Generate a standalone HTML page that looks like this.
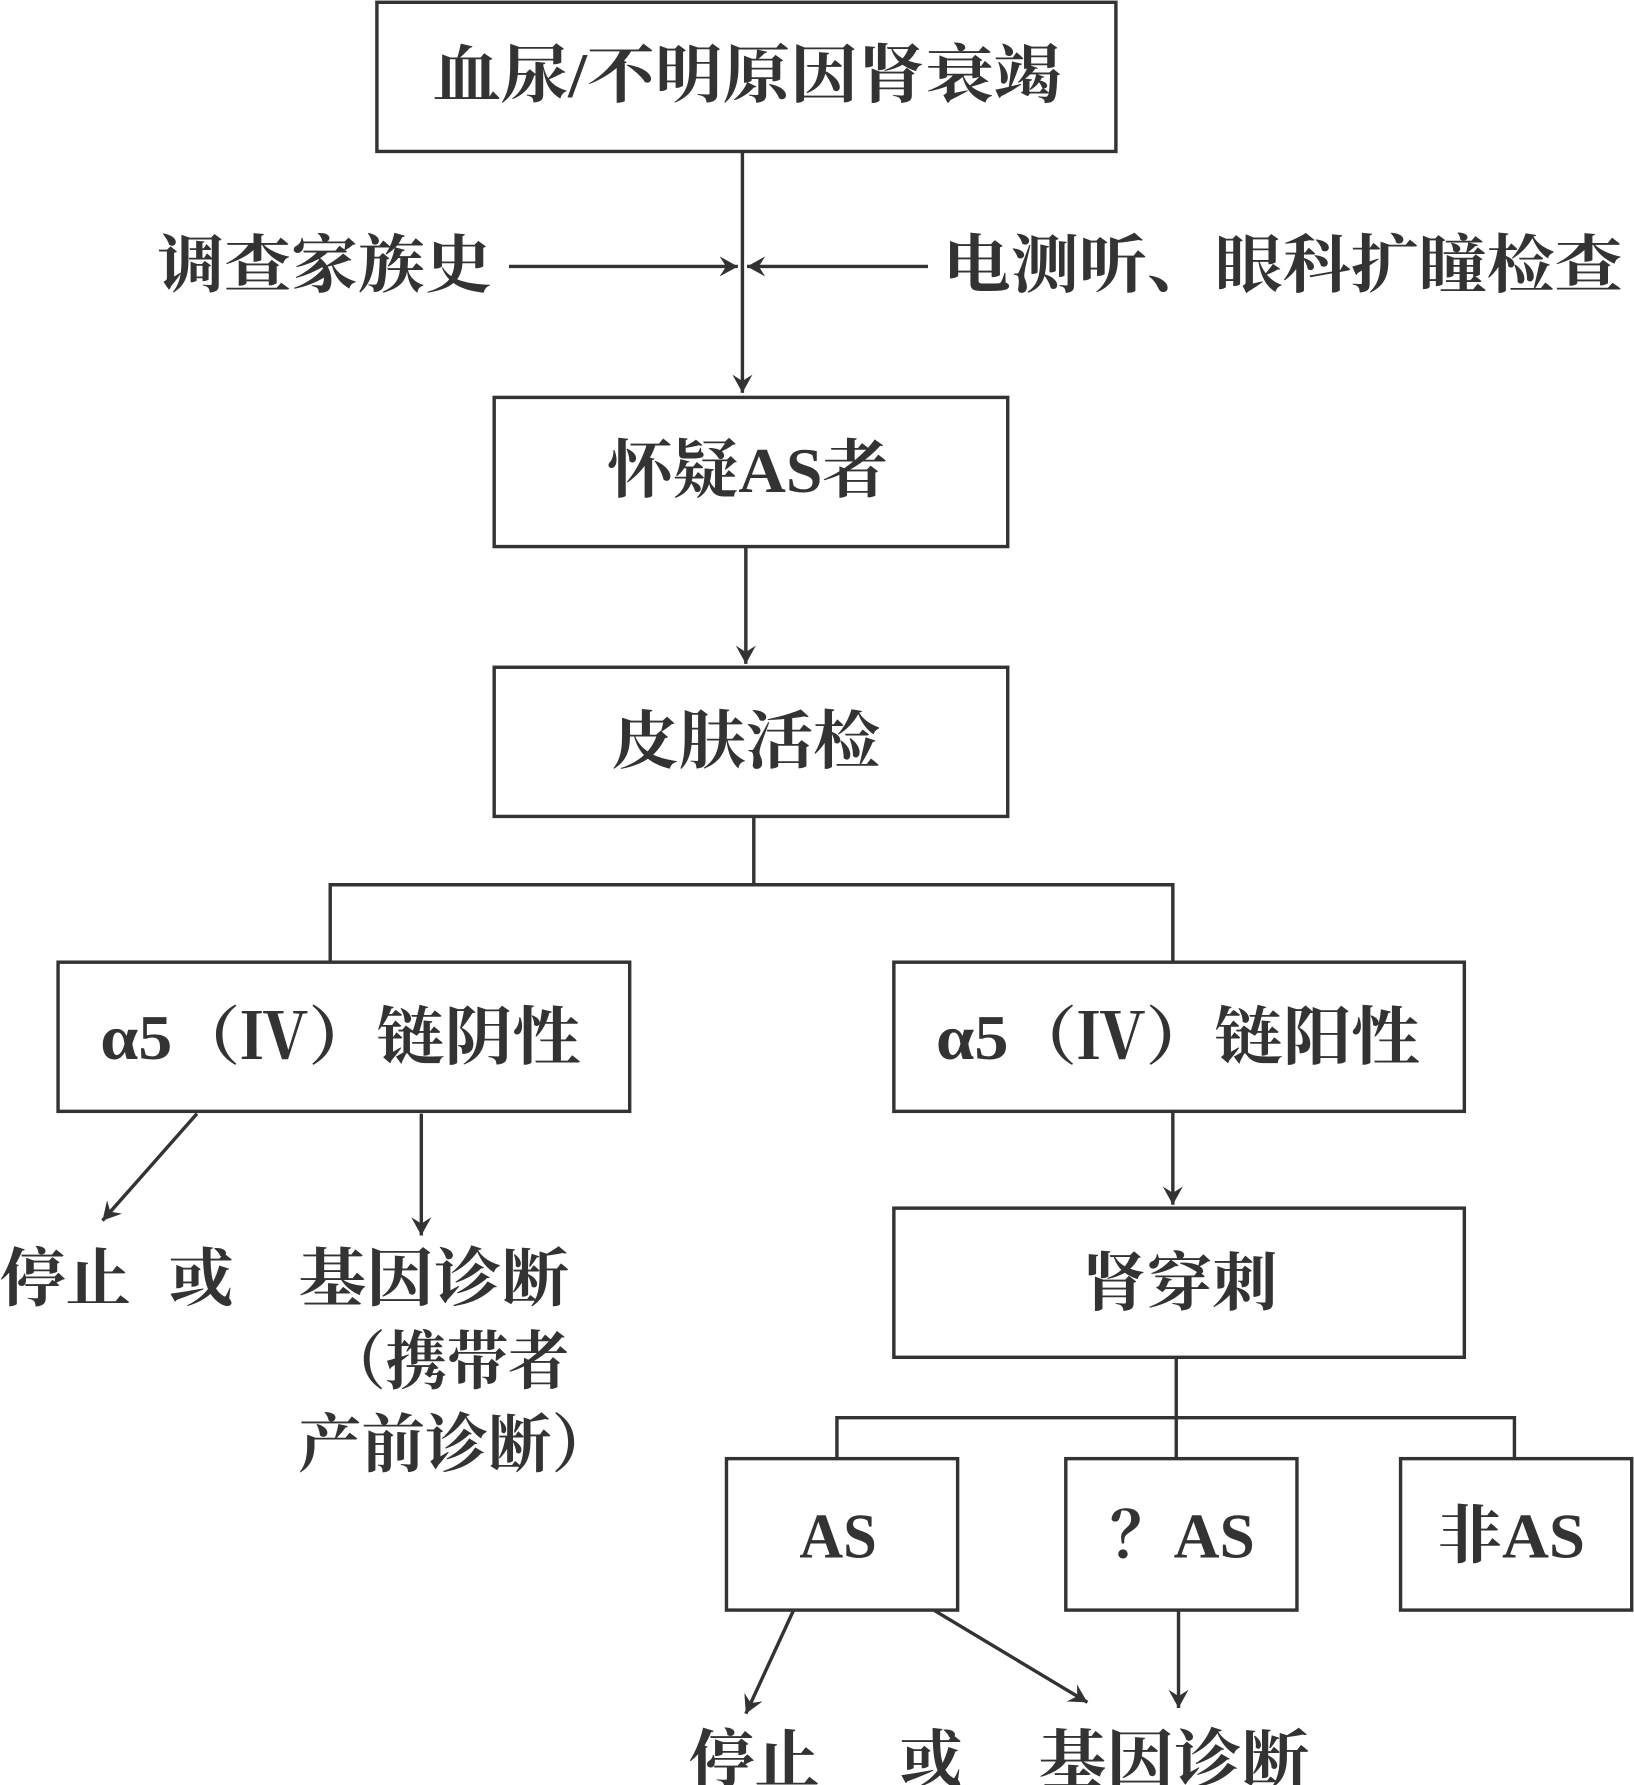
<!DOCTYPE html>
<html><head><meta charset="utf-8"><style>
html,body{margin:0;padding:0;background:#fff;}
svg{display:block;}
text{font-family:"Liberation Serif","Noto Serif CJK SC",serif;font-size:56px;fill:#333;font-weight:700;}
</style></head><body>
<svg width="1634" height="1785" viewBox="0 0 1435 1567.6" xmlns="http://www.w3.org/2000/svg">
<defs><marker id="a" viewBox="0 0 10 10" refX="10" refY="5" markerWidth="8" markerHeight="10" markerUnits="userSpaceOnUse" orient="auto" overflow="visible">
<path d="M-20,-6 L0,5 L-20,16 L-13,5 Z" fill="#333" transform="translate(10,0)"/></marker></defs>
<g fill="none" stroke="#333" stroke-width="3">
<rect x="331" y="2" width="649" height="131"/>
<rect x="434" y="349" width="451" height="131"/>
<rect x="434" y="586" width="451" height="131"/>
<rect x="51" y="845" width="502" height="131"/>
<rect x="785" y="845" width="501" height="131"/>
<rect x="785" y="1061" width="501" height="131"/>
<rect x="638" y="1281" width="203" height="133"/>
<rect x="936" y="1281" width="203" height="133"/>
<rect x="1230" y="1281" width="203" height="133"/>
<line x1="652" y1="133" x2="652" y2="345" marker-end="url(#a)"/>
<line x1="447" y1="234" x2="648" y2="234" marker-end="url(#a)"/>
<line x1="815" y1="234" x2="656" y2="234" marker-end="url(#a)"/>
<line x1="655" y1="480" x2="655" y2="583" marker-end="url(#a)"/>
<polyline points="662,717 662,777"/>
<polyline points="290,845 290,777 1030,777 1030,845"/>
<line x1="173" y1="978" x2="90" y2="1072" marker-end="url(#a)"/>
<line x1="370" y1="978" x2="370" y2="1085" marker-end="url(#a)"/>
<line x1="1030" y1="976" x2="1030" y2="1058" marker-end="url(#a)"/>
<line x1="1033" y1="1192" x2="1033" y2="1281"/>
<polyline points="735,1281 735,1245 1330,1245 1330,1281"/>
<line x1="697" y1="1414" x2="655" y2="1505" marker-end="url(#a)"/>
<line x1="820" y1="1414" x2="955" y2="1495" marker-end="url(#a)"/>
<line x1="1035" y1="1414" x2="1035" y2="1500" marker-end="url(#a)"/>
</g>
<g lengthAdjust="spacingAndGlyphs">
<text x="380" y="85" textLength="552" lengthAdjust="spacingAndGlyphs">血尿/不明原因肾衰竭</text>
<text x="533" y="432" textLength="247" lengthAdjust="spacingAndGlyphs">怀疑AS者</text>
<text x="537" y="670" textLength="236" lengthAdjust="spacingAndGlyphs">皮肤活检</text>
<text x="88" y="930" textLength="422" lengthAdjust="spacingAndGlyphs">α5（Ⅳ）链阴性</text>
<text x="822" y="930" textLength="425" lengthAdjust="spacingAndGlyphs">α5（Ⅳ）链阳性</text>
<text x="950" y="1146" textLength="172" lengthAdjust="spacingAndGlyphs">肾穿刺</text>
<text x="702" y="1368" textLength="68" lengthAdjust="spacingAndGlyphs">AS</text>
<text x="975" y="1368" textLength="127" lengthAdjust="spacingAndGlyphs">？AS</text>
<text x="1262" y="1368" textLength="130" lengthAdjust="spacingAndGlyphs">非AS</text>
<text x="138" y="252" textLength="294" lengthAdjust="spacingAndGlyphs">调查家族史</text>
<text x="828" y="252" textLength="597" lengthAdjust="spacingAndGlyphs">电测听、眼科扩瞳检查</text>
<text x="0" y="1142" textLength="115" lengthAdjust="spacingAndGlyphs">停止</text>
<text x="148" y="1142" textLength="57" lengthAdjust="spacingAndGlyphs">或</text>
<text x="262" y="1142" textLength="238" lengthAdjust="spacingAndGlyphs">基因诊断</text>
<text x="285" y="1215" textLength="215" lengthAdjust="spacingAndGlyphs">（携带者</text>
<text x="262" y="1288" textLength="278" lengthAdjust="spacingAndGlyphs">产前诊断）</text>
<text x="605" y="1565" textLength="115" lengthAdjust="spacingAndGlyphs">停止</text>
<text x="790" y="1565" textLength="55" lengthAdjust="spacingAndGlyphs">或</text>
<text x="912" y="1565" textLength="238" lengthAdjust="spacingAndGlyphs">基因诊断</text>
</g>
</svg>
</body></html>
